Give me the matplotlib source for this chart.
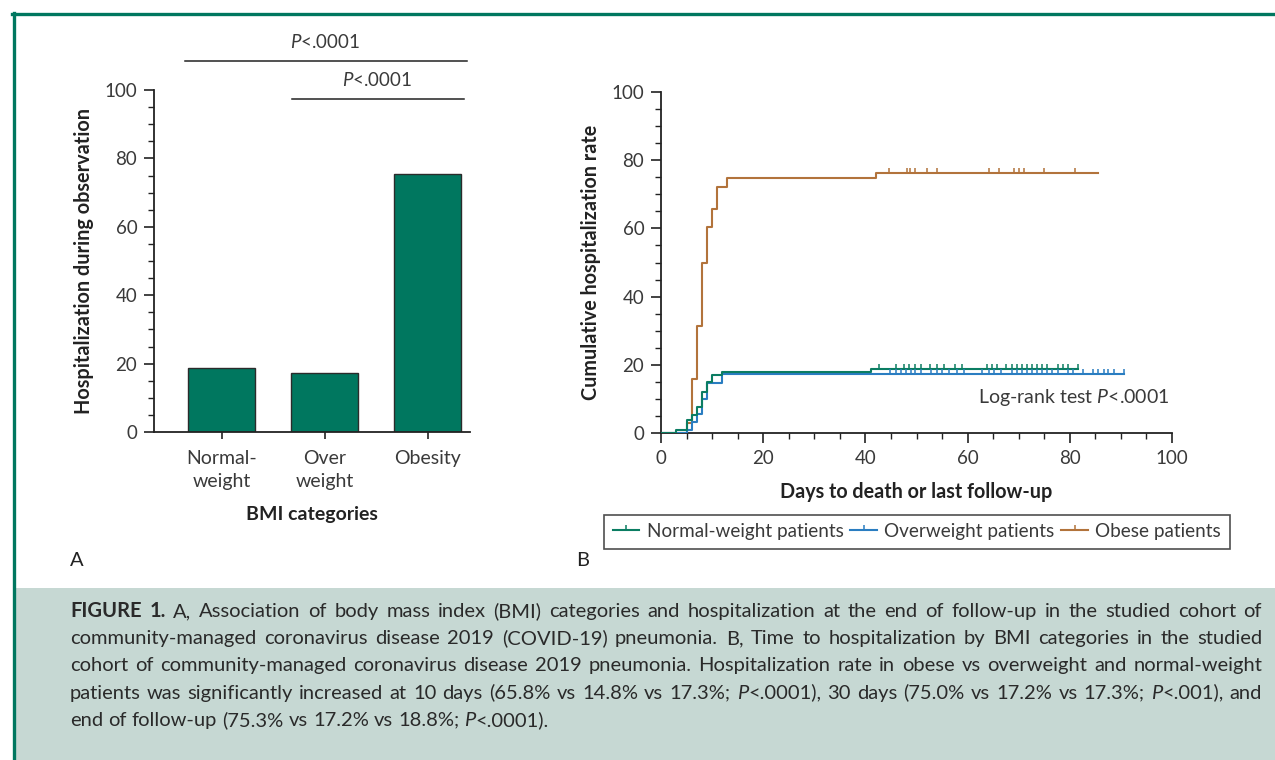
import matplotlib
matplotlib.use('Agg')
import matplotlib.pyplot as plt
from matplotlib.lines import Line2D
from matplotlib.patches import Rectangle
from matplotlib.path import Path
import numpy as np

plt.rcParams['font.family'] = ['Lato', 'DejaVu Sans']
plt.rcParams['mathtext.fontset'] = 'custom'
plt.rcParams['mathtext.rm'] = 'Lato'
plt.rcParams['mathtext.it'] = 'Lato:italic'

# ===================== data =====================

# panel A: hospitalization by BMI category (%)
bmi_labels = ['Normal-\nweight', 'Over\nweight', 'Obesity']
hosp_pct = [18.8, 17.2, 75.3]

# panel B: Kaplan-Meier steps (day, cumulative %)
normal_days = [0, 3, 5, 6, 7, 8, 9, 10, 12, 41, 81.6]
normal_rate = [0, 0.8, 3.7, 5.4, 7.5, 11.9, 14.9, 17.1, 17.8, 18.8, 18.8]
over_days = [0, 5, 6, 7, 8, 9, 12, 90.6]
over_rate = [0, 0.8, 3.1, 5.6, 10.0, 14.8, 17.2, 17.2]
obese_days = [0, 5, 6, 7, 8, 9, 10, 11, 13, 42, 85.5]
obese_rate = [0, 3.0, 15.8, 31.4, 49.8, 60.4, 65.6, 72.1, 74.7, 76.2, 76.2]

# censored observations (days)
normal_cens = [42.6, 45.9, 47.5, 48.5, 49.8, 50.8, 52.7, 54.0, 55.3, 57.6, 58.9,
               63.7, 64.7, 65.7, 67.6, 68.6, 69.6, 70.6, 71.7, 72.7, 73.6, 74.6,
               75.6, 77.6, 78.6, 79.6, 81.6]
over_cens = [44.9, 45.9, 47.0, 48.0, 49.0, 49.8, 50.8, 52.9, 54.0, 55.0, 56.3,
             57.9, 59.2, 62.9, 64.2, 65.2, 66.5, 68.6, 69.6, 70.6, 71.7, 72.7,
             73.6, 74.6, 75.6, 76.6, 77.6, 79.7, 80.6, 82.6, 84.5, 85.5, 86.6,
             87.5, 88.6, 90.6]
obese_cens = [44.7, 48.2, 48.8, 49.8, 52.1, 54.1, 64.1, 66.2, 69.1, 70.1, 71.0,
              75.0, 81.0]

series_names = ['Normal-weight patients', 'Overweight patients', 'Obese patients']

caption_lines = [
    'FIGURE 1. A, Association of body mass index (BMI) categories and hospitalization at the end of follow-up in the studied cohort of',
    'community-managed coronavirus disease 2019 (COVID-19) pneumonia. B, Time to hospitalization by BMI categories in the studied',
    'cohort of community-managed coronavirus disease 2019 pneumonia. Hospitalization rate in obese vs overweight and normal-weight',
    'patients was significantly increased at 10 days (65.8% vs 14.8% vs 17.3%; P<.0001), 30 days (75.0% vs 17.2% vs 17.3%; P<.001), and',
    'end of follow-up (75.3% vs 17.2% vs 18.8%; P<.0001).',
]

# ===================== styling =====================

W, H = 1275, 760
teal = '#00775f'
c_normal = '#0b7d62'
c_over = '#2a7dc1'
c_obese = '#b2733b'
txt = '#3a3a3a'
tick_up = Path([[0, 0], [0, 1]])

fig = plt.figure(figsize=(W / 100, H / 100), dpi=100)
fig.patch.set_facecolor('white')


def px_axes(x0, y0, x1, y1):
    # pixel box (top-left origin) -> figure axes
    return fig.add_axes([x0 / W, 1 - y1 / H, (x1 - x0) / W, (y1 - y0) / H])


def style_axes(ax):
    for s in ['top', 'right']:
        ax.spines[s].set_visible(False)
    for s in ['left', 'bottom']:
        ax.spines[s].set_linewidth(1.3)
        ax.spines[s].set_color('#222222')
    ax.tick_params(which='major', length=7, width=1.2, colors='#222222',
                   labelcolor=txt, labelsize=13.5, pad=5)
    ax.tick_params(which='minor', length=4, width=1.0, colors='#222222')


# ---------------- panel A ----------------
axA = px_axes(154, 90, 470, 432)
xA = np.arange(len(hosp_pct))
axA.bar(xA, hosp_pct, width=0.65, color=teal, edgecolor='#2b2b2b', linewidth=1.0)
axA.set_xlim(-0.66, 2.41)
axA.set_ylim(0, 100)
axA.set_yticks(np.arange(0, 101, 20))
axA.set_yticks(np.arange(0, 101, 5), minor=True)
axA.set_xticks(xA)
axA.set_xticklabels(bmi_labels, linespacing=1.4)
style_axes(axA)
axA.tick_params(axis='x', length=5, pad=8, labelsize=14)
axA.set_ylabel('Hospitalization during observation', fontsize=14.3,
               fontweight='bold', color='#222222')
axA.yaxis.set_label_coords(-0.19, 0.5)
axA.set_xlabel('BMI categories', fontsize=14, fontweight='bold', color='#222222')
axA.xaxis.set_label_coords(0.5, -0.215)

# significance bars
axA.plot([-0.36, 2.38], [108.5, 108.5], color='#222222', lw=1.1, clip_on=False)
axA.plot([0.68, 2.35], [97.4, 97.4], color='#222222', lw=1.1, clip_on=False)
axA.text(1.0, 114, r'$\mathit{P}$<.0001', ha='center', va='center',
         fontsize=13.5, color=txt, clip_on=False)
axA.text(1.51, 102.9, r'$\mathit{P}$<.0001', ha='center', va='center',
         fontsize=13.5, color=txt, clip_on=False)

# ---------------- panel B ----------------
axB = px_axes(661, 92, 1172, 433)
curves = [
    (obese_days, obese_rate, obese_cens, c_obese),
    (over_days, over_rate, over_cens, c_over),
    (normal_days, normal_rate, normal_cens, c_normal),
]
for days, rate, cens, col in curves:
    axB.step(days, rate, where='post', color=col, lw=1.5, zorder=3)
    # censor ticks sit on the curve level at that time
    idx = np.searchsorted(days, cens, side='right') - 1
    lev = np.array(rate)[idx]
    axB.plot(cens, lev, ls='none', marker=tick_up, ms=7, mew=1.1,
             color=col, zorder=4)

axB.set_xlim(0, 100)
axB.set_ylim(0, 100)
axB.set_xticks(np.arange(0, 101, 20))
axB.set_xticks(np.arange(0, 101, 5), minor=True)
axB.set_yticks(np.arange(0, 101, 20))
axB.set_yticks(np.arange(0, 101, 5), minor=True)
style_axes(axB)
axB.set_ylabel('Cumulative hospitalization rate', fontsize=14.2,
               fontweight='bold', color='#222222')
axB.yaxis.set_label_coords(-0.118, 0.5)
axB.set_xlabel('Days to death or last follow-up', fontsize=14.2,
               fontweight='bold', color='#222222')
axB.xaxis.set_label_coords(0.5, -0.145)
axB.text(99.5, 10.3, r'Log-rank test $\mathit{P}$<.0001', ha='right',
         va='center', fontsize=14, color=txt)

handles = [Line2D([], [], color=c, lw=1.5, marker=tick_up, ms=7, mew=1.1)
           for c in [c_normal, c_over, c_obese]]
leg = fig.legend(handles, series_names, ncol=3, loc='center',
                 bbox_to_anchor=(917 / W, 1 - 531.5 / H), fontsize=13.6,
                 frameon=True, fancybox=False, edgecolor='#222222',
                 handlelength=1.4, handletextpad=0.4, columnspacing=0.35,
                 borderpad=0.45, numpoints=1)
leg.get_frame().set_linewidth(1.2)
for t in leg.get_texts():
    t.set_color(txt)

# panel letters
fig.text(70 / W, 1 - 560 / H, 'A', fontsize=14.5, color='#222222', va='center')
fig.text(576 / W, 1 - 560 / H, 'B', fontsize=14.5, color='#222222', va='center')

# ---------------- frame and caption box ----------------
fig.add_artist(Rectangle((15 / W, 0), 1 - 15 / W, 172 / H,
                         transform=fig.transFigure, facecolor='#c6d8d3',
                         edgecolor='none', zorder=0))
fig.add_artist(Line2D([12 / W, 1], [1 - 13.5 / H, 1 - 13.5 / H],
                      color=teal, lw=2.4, transform=fig.transFigure))
fig.add_artist(Line2D([13.5 / W, 13.5 / W], [0, 1 - 13 / H],
                      color=teal, lw=2.4, transform=fig.transFigure))

# justified caption: place word by word, common baseline per line
renderer = fig.canvas.get_renderer()
cap_left, cap_right = 70, 1262
cap_base0, cap_dy = 617, 27.2
cap_size = 14.5


def segments(word, li, wi):
    if li == 0 and wi < 2:
        return [(word, 'bold', 'normal')]
    if word.startswith('P<'):
        return [('P', 'normal', 'italic'), (word[1:], 'normal', 'normal')]
    return [(word, 'normal', 'normal')]


def width_px(t):
    return t.get_window_extent(renderer).width


probe = fig.text(0, 0, 'x x', fontsize=cap_size)
probe2 = fig.text(0, 0, 'xx', fontsize=cap_size)
space_w = width_px(probe) - width_px(probe2)
probe.remove()
probe2.remove()

for li, line in enumerate(caption_lines):
    y = 1 - (cap_base0 + li * cap_dy) / H
    words = line.split(' ')
    placed = []
    for wi, w in enumerate(words):
        segs = []
        for s, wt, st in segments(w, li, wi):
            t = fig.text(0, y, s, fontsize=cap_size, fontweight=wt, fontstyle=st,
                         color='#2a2a2a', va='baseline', ha='left')
            segs.append((t, width_px(t)))
        placed.append(segs)
    word_w = [sum(sw for _, sw in segs) for segs in placed]
    last = li == len(caption_lines) - 1
    gap = space_w if last else (cap_right - cap_left - sum(word_w)) / (len(words) - 1)
    x = cap_left
    for segs, ww in zip(placed, word_w):
        xs = x
        for t, sw in segs:
            t.set_x(xs / W)
            xs += sw
        x += ww + gap

fig.savefig('out.png', dpi=100, facecolor='white')
